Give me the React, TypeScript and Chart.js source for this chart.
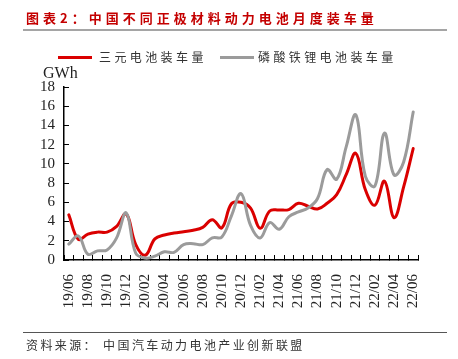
import React, { useEffect, useRef } from "react";
import { Chart, registerables } from "chart.js";

Chart.register(...registerables);

const categories = [
  "19/06", "19/07", "19/08", "19/09", "19/10", "19/11", "19/12",
  "20/01", "20/02", "20/03", "20/04", "20/05", "20/06", "20/07", "20/08", "20/09", "20/10", "20/11", "20/12",
  "21/01", "21/02", "21/03", "21/04", "21/05", "21/06", "21/07", "21/08", "21/09", "21/10", "21/11", "21/12",
  "22/01", "22/02", "22/03", "22/04", "22/05", "22/06",
];

const ternary = [
  4.7, 2.15, 2.7, 2.9, 2.9, 3.5, 4.8,
  1.6, 0.5, 2.2, 2.6, 2.8, 2.95, 3.1, 3.4, 4.2, 3.35, 5.85, 6.0,
  5.4, 3.3, 5.1, 5.2, 5.25, 5.9, 5.6, 5.3, 5.9, 6.8, 8.9, 11.1,
  7.3, 5.7, 8.2, 4.4, 7.6, 11.6,
];

const lfp = [
  1.65, 2.5, 0.6, 0.95, 1.05, 2.3, 4.9,
  0.7, 0.2, 0.4, 0.85, 0.8, 1.6, 1.7, 1.6, 2.3, 2.4, 4.6, 6.9,
  3.6, 2.3, 3.9, 3.2, 4.5, 5.0, 5.4, 6.4, 9.4, 8.4, 11.8, 15.1,
  8.7, 7.7, 13.2, 8.85, 10.2, 15.4,
];

const seriesNames = ["三元电池装车量", "磷酸铁锂电池装车量"];
const seriesColors = ["#DA0000", "#9B9B9B"];
const yMin = 0;
const yMax = 18;
const yStep = 2;
const yUnit = "GWh";
const titleText = "图表2：中国不同正极材料动力电池月度装车量";
const sourceText = "资料来源： 中国汽车动力电池产业创新联盟";

const serif = "'Liberation Serif', 'DejaVu Serif', serif";
const cjk = "'Noto Sans CJK SC', 'Noto Sans', sans-serif";

export default function App() {
  const canvasRef = useRef<HTMLCanvasElement | null>(null);

  useEffect(() => {
    const canvas = canvasRef.current;
    if (!canvas) return;
    const chart = new Chart(canvas, {
      type: "line",
      data: {
        labels: categories,
        datasets: [
          {
            label: seriesNames[0],
            data: ternary,
            borderColor: seriesColors[0],
            backgroundColor: seriesColors[0],
            order: 1,
          },
          {
            label: seriesNames[1],
            data: lfp,
            borderColor: seriesColors[1],
            backgroundColor: seriesColors[1],
            order: 0,
          },
        ],
      },
      options: {
        animation: false,
        responsive: false,
        devicePixelRatio: 1,
        layout: { padding: { top: 87, right: 40, left: 0, bottom: 0 } },
        plugins: {
          legend: { display: false },
          tooltip: { enabled: false },
        },
        elements: {
          point: { radius: 0 },
          line: { tension: 0.4, borderWidth: 3, borderCapStyle: "round", borderJoinStyle: "round" },
        },
        scales: {
          x: {
            type: "category",
            offset: true,
            grid: {
              display: true,
              drawOnChartArea: false,
              drawTicks: true,
              tickLength: -5,
              offset: true,
              color: "#000",
              lineWidth: 1,
            },
            border: { display: true, color: "#000", width: 1.5 },
            ticks: {
              autoSkip: false,
              minRotation: 90,
              maxRotation: 90,
              padding: 19,
              color: "#222",
              font: { family: serif, size: 15 },
              callback: (_v: any, i: number) => (i % 2 === 0 ? categories[i] : ""),
            },
            afterFit: (s: any) => {
              s.height = 99;
            },
          },
          y: {
            min: yMin,
            max: yMax,
            grid: {
              display: true,
              drawOnChartArea: false,
              drawTicks: true,
              tickLength: -5,
              color: "#000",
              lineWidth: 1,
            },
            border: { display: true, color: "#000", width: 1.5 },
            ticks: {
              stepSize: yStep,
              autoSkip: false,
              padding: 14,
              color: "#222",
              font: { family: serif, size: 15 },
            },
            afterFit: (s: any) => {
              s.width = 64;
            },
          },
        },
      },
    });
    return () => chart.destroy();
  }, []);

  const abs = (s: React.CSSProperties): React.CSSProperties => ({ position: "absolute", ...s });

  return (
    <div
      style={{
        position: "fixed",
        left: 0,
        top: 0,
        width: 458,
        height: 359,
        background: "#fff",
        overflow: "hidden",
      }}
    >
      <canvas ref={canvasRef} width={458} height={359} style={abs({ left: 0, top: 0, width: 458, height: 359 })} />
      <div
        style={abs({
          left: 26,
          top: 9,
          fontFamily: cjk,
          fontWeight: 700,
          fontSize: 13,
          lineHeight: "18px",
          letterSpacing: 4,
          color: "#C40000",
          whiteSpace: "nowrap",
        })}
      >
        {titleText}
      </div>
      <div style={abs({ left: 23, top: 29, width: 424, height: 2, background: "#A5A5A5" })} />
      <div style={abs({ left: 58, top: 55.5, width: 34, height: 3, background: seriesColors[0] })} />
      <div
        style={abs({
          left: 99,
          top: 49,
          fontFamily: cjk,
          fontSize: 12,
          lineHeight: "16px",
          letterSpacing: 3.4,
          color: "#333",
          whiteSpace: "nowrap",
        })}
      >
        {seriesNames[0]}
      </div>
      <div style={abs({ left: 220, top: 55.5, width: 34, height: 3, background: seriesColors[1] })} />
      <div
        style={abs({
          left: 258,
          top: 49,
          fontFamily: cjk,
          fontSize: 12,
          lineHeight: "16px",
          letterSpacing: 3.4,
          color: "#333",
          whiteSpace: "nowrap",
        })}
      >
        {seriesNames[1]}
      </div>
      <div
        style={abs({
          left: 43,
          top: 64,
          fontFamily: serif,
          fontSize: 16,
          lineHeight: "18px",
          color: "#222",
          whiteSpace: "nowrap",
        })}
      >
        {yUnit}
      </div>
      <div style={abs({ left: 23, top: 332, width: 424, height: 1, background: "#555" })} />
      <div
        style={abs({
          left: 26,
          top: 337,
          fontFamily: cjk,
          fontSize: 12,
          lineHeight: "16px",
          letterSpacing: 2.4,
          color: "#333",
          whiteSpace: "nowrap",
        })}
      >
        {sourceText}
      </div>
    </div>
  );
}
